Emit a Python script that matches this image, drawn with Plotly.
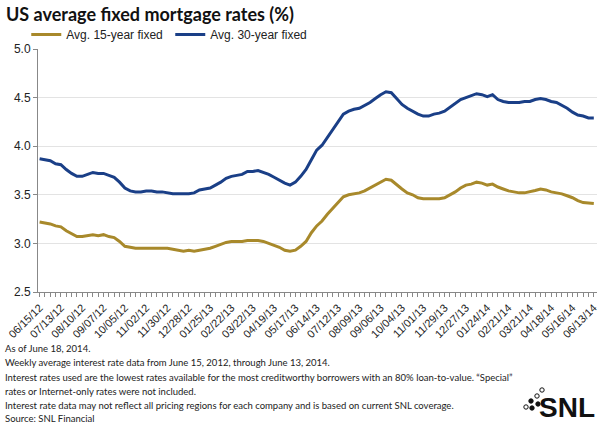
import plotly.graph_objects as go

tick_labels = ["06/15/12", "07/13/12", "08/10/12", "09/07/12", "10/05/12", "11/02/12",
               "11/30/12", "12/28/12", "01/25/13", "02/22/13", "03/22/13", "04/19/13",
               "05/17/13", "06/14/13", "07/12/13", "08/09/13", "09/06/13", "10/04/13",
               "11/01/13", "11/29/13", "12/27/13", "01/24/14", "02/21/14", "03/21/14",
               "04/18/14", "05/16/14", "06/13/14"]

rate_15yr = [3.22, 3.21, 3.20, 3.18, 3.17, 3.13, 3.10, 3.07, 3.07, 3.08,
             3.09, 3.08, 3.09, 3.07, 3.06, 3.02, 2.97, 2.96, 2.95, 2.95,
             2.95, 2.95, 2.95, 2.95, 2.95, 2.94, 2.93, 2.92, 2.93, 2.92,
             2.93, 2.94, 2.95, 2.97, 2.99, 3.01, 3.02, 3.02, 3.02, 3.03,
             3.03, 3.03, 3.02, 3.00, 2.98, 2.96, 2.93, 2.92, 2.93, 2.97,
             3.02, 3.11, 3.18, 3.23, 3.30, 3.36, 3.42, 3.48, 3.50, 3.51,
             3.52, 3.54, 3.57, 3.60, 3.63, 3.66, 3.65, 3.60, 3.56, 3.52,
             3.50, 3.47, 3.46, 3.46, 3.46, 3.46, 3.47, 3.50, 3.53, 3.57,
             3.60, 3.61, 3.63, 3.62, 3.60, 3.61, 3.58, 3.56, 3.54, 3.53,
             3.52, 3.52, 3.53, 3.545, 3.56, 3.55, 3.53, 3.52, 3.51, 3.49,
             3.47, 3.44, 3.42, 3.415, 3.41]

rate_30yr = [3.87, 3.86, 3.85, 3.82, 3.81, 3.76, 3.72, 3.69, 3.69, 3.71,
             3.73, 3.72, 3.72, 3.70, 3.68, 3.63, 3.57, 3.54, 3.53, 3.53,
             3.54, 3.54, 3.53, 3.53, 3.52, 3.51, 3.51, 3.51, 3.51, 3.52,
             3.55, 3.56, 3.57, 3.60, 3.63, 3.67, 3.69, 3.70, 3.71, 3.74,
             3.74, 3.75, 3.73, 3.71, 3.68, 3.65, 3.62, 3.60, 3.63, 3.69,
             3.76, 3.86, 3.96, 4.01, 4.09, 4.17, 4.26, 4.33, 4.36, 4.38,
             4.39, 4.42, 4.45, 4.49, 4.53, 4.56, 4.55, 4.49, 4.43, 4.39,
             4.36, 4.33, 4.31, 4.31, 4.33, 4.34, 4.36, 4.40, 4.44, 4.48,
             4.50, 4.52, 4.54, 4.53, 4.51, 4.53, 4.48, 4.46, 4.45, 4.45,
             4.45, 4.46, 4.46, 4.48, 4.49, 4.48, 4.46, 4.45, 4.42, 4.39,
             4.35, 4.32, 4.31, 4.29, 4.29]

footnote_lines = [
    "As of June 18, 2014.",
    "Weekly average interest rate data from June 15, 2012, through June 13, 2014.",
    "Interest rates used are the lowest rates available for the most creditworthy borrowers with an 80% loan-to-value. \u201cSpecial\u201d",
    "rates or Internet-only rates were not included.",
    "Interest rate data may not reflect all pricing regions for each company and is based on current SNL coverage.",
    "Source: SNL Financial",
]

weeks = list(range(len(rate_15yr)))
tick_weeks = weeks[::4]

GOLD = "#A8892B"
BLUE = "#1A3F87"

# plot area in pixels: x 38..597, y 49..292
PL, PW, PB, PH = 38, 559, 292, 243


def px_x(x):
    return (x - PL) / PW


def px_y(y):
    return (PB - y) / PH


fig = go.Figure()
fig.add_trace(go.Scatter(x=weeks, y=rate_15yr, mode="lines", name="Avg. 15-year fixed",
                         line=dict(color=GOLD, width=3)))
fig.add_trace(go.Scatter(x=weeks, y=rate_30yr, mode="lines", name="Avg. 30-year fixed",
                         line=dict(color=BLUE, width=3)))

fig.update_layout(
    width=600, height=424,
    margin=dict(l=38, r=3, t=49, b=132),
    paper_bgcolor="white", plot_bgcolor="white",
    font=dict(family="Liberation Sans, Arial, sans-serif", size=12, color="#222"),
    showlegend=True,
    legend=dict(orientation="h", x=-0.021, y=1.0, xanchor="left", yanchor="bottom",
                itemwidth=30, entrywidth=99, entrywidthmode="pixels",
                font=dict(family="Liberation Sans, Arial, sans-serif", size=12, color="#222"),
                bgcolor="rgba(0,0,0,0)"),
    xaxis=dict(range=[-0.3, 104.6], tickmode="array", tickvals=tick_weeks, ticktext=tick_labels,
               tickangle=-45, ticks="outside", ticklen=4, tickcolor="#888", tickwidth=1,
               minor=dict(dtick=1, tick0=0, ticks="outside", ticklen=4, tickcolor="#888", showgrid=False),
               showline=True, linecolor="#888", linewidth=1, showgrid=False, zeroline=False,
               tickfont=dict(family="Liberation Sans, Arial, sans-serif", size=11, color="#222"),
               automargin=False),
    yaxis=dict(range=[2.5, 5.0], tickvals=[2.5, 3.0, 3.5, 4.0, 4.5, 5.0],
               ticktext=["2.5", "3.0", "3.5", "4.0", "4.5", "5.0"],
               ticks="outside", ticklen=4, tickcolor="#888", showline=True, linecolor="#888",
               linewidth=1, showgrid=True, gridcolor="#E3E3E3", gridwidth=1, zeroline=False,
               tickfont=dict(family="Liberation Sans, Arial, sans-serif", size=12, color="#222"),
               automargin=False),
)

fig.add_annotation(xref="paper", yref="paper", x=px_x(4), y=px_y(14), xanchor="left", yanchor="middle",
                   text="<b>US average fixed mortgage rates (%)</b>", showarrow=False,
                   font=dict(family="Lato, sans-serif", size=18, color="#111"))

line_ys = [348, 362.5, 377, 391, 405, 418]
for txt, ly in zip(footnote_lines, line_ys):
    fig.add_annotation(xref="paper", yref="paper", x=px_x(3), y=px_y(ly), xanchor="left", yanchor="middle",
                       align="left", text=txt, showarrow=False,
                       font=dict(family="Lato, sans-serif", size=9.5, color="#222"))

fig.add_annotation(xref="paper", yref="paper", x=1.0, y=px_y(407), xanchor="right", yanchor="middle",
                   text="<b>SNL</b>", showarrow=False,
                   font=dict(family="Liberation Sans, Arial, sans-serif", size=28, color="#111"))

# logo dots (decorative)
dots = [(531, 401, True), (537, 396, False), (542, 390, False), (526, 407, False), (532, 408, True), (538, 404, True)]
for (px, py, filled) in dots:
    r = 2.2
    fig.add_shape(type="circle", xref="paper", yref="paper",
                  x0=px_x(px - r), x1=px_x(px + r),
                  y0=px_y(py + r), y1=px_y(py - r),
                  line=dict(color="#111", width=1), fillcolor="#111" if filled else "white")

fig.write_html("out.html")
